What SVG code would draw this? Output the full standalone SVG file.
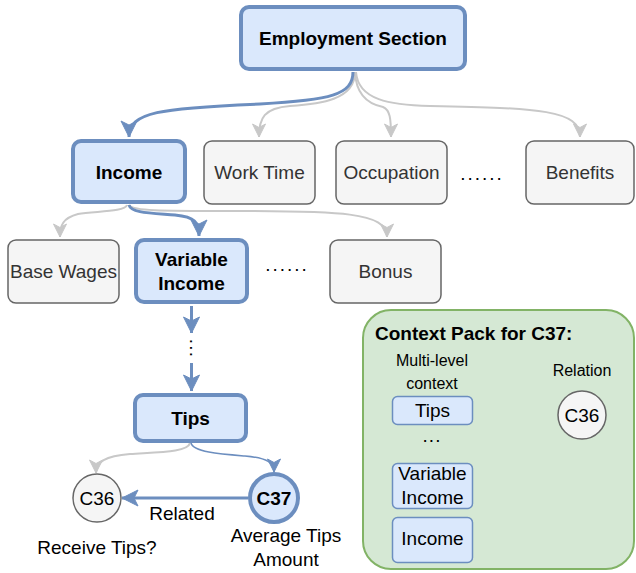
<svg xmlns="http://www.w3.org/2000/svg" width="636" height="573" viewBox="0 0 636 573">
<defs>
<marker id="ab" markerUnits="userSpaceOnUse" markerWidth="18" markerHeight="18" refX="16" refY="8" orient="auto" overflow="visible">
<path d="M0,0 L16,8 L0,16 L4,8 Z" fill="#6c8ebf" stroke="#6c8ebf" stroke-width="1" stroke-linejoin="miter"/>
</marker>
<marker id="abs" markerUnits="userSpaceOnUse" markerWidth="14" markerHeight="14" refX="13" refY="6.5" orient="auto" overflow="visible">
<path d="M0,0 L13,6.5 L0,13 L3.5,6.5 Z" fill="#6c8ebf" stroke="#6c8ebf" stroke-width="1"/>
</marker>
<marker id="ag" markerUnits="userSpaceOnUse" markerWidth="14" markerHeight="14" refX="13" refY="6.5" orient="auto" overflow="visible">
<path d="M0,0 L13,6.5 L0,13 L3.5,6.5 Z" fill="#c8c8c8" stroke="#c8c8c8" stroke-width="1"/>
</marker>
</defs>
<style>
text{font-family:"Liberation Sans",Arial,Helvetica,sans-serif;text-anchor:middle}
.hl{fill:#dae8fc;stroke:#6c8ebf;stroke-width:4}
.gr{fill:#f5f5f5;stroke:#666666;stroke-width:1.5}
.sb{fill:#dae8fc;stroke:#6c8ebf;stroke-width:1.5}
.bt{font-size:19px;font-weight:bold;fill:#000}
.gt{font-size:19px;fill:#333333}
.nt{font-size:19px;fill:#000}
.st{font-size:16px;fill:#000}
.eg{fill:none;stroke:#c8c8c8;stroke-width:2;marker-end:url(#ag)}
.eb{fill:none;stroke:#6c8ebf;stroke-width:3;marker-end:url(#ab)}
.ebs{fill:none;stroke:#6c8ebf;stroke-width:1.5;marker-end:url(#abs)}
.dots{font-size:19px;fill:#000;letter-spacing:2px}
</style>

<g id="connectors">
<path class="eg" d="M355,72 C355,100 320,104 290,106 C264,108 259,118 259,137"/>
<path class="eg" d="M355,72 C356,95 368,104 383,107 C390,110 391,118 391,137"/>
<path class="eg" d="M356,72 C358,100 390,105 430,106 C540,108 580,110 580,137"/>
<path class="eb" d="M353,72 C353,95 330,100 260,104 C160,108 129,112 129,137"/>
<path class="eg" d="M127,205 C125,212 95,211 78,214 C63,218 60,225 60,237"/>
<path class="eg" d="M129,205 C133,211 160,211 230,211 C340,211 387,212 387,237"/>
<path class="eb" d="M129,205 C131,213 150,213 175,215 C195,217 199,222 199,236"/>
<path class="eb" d="M191.5,306 L191.5,333"/>
<path class="eb" d="M191.5,363 L191.5,391"/>
<path class="eg" d="M190,443 C188,452 160,452 130,454 C105,456 96,462 96,473"/>
<path class="ebs" d="M191,443 C193,452 220,454 245,456 C268,458 274,463 274,472"/>
<path class="eb" d="M248,498 L122,498"/>
</g>

<g id="employment-section"><rect class="hl" x="241" y="7" width="224" height="62" rx="8"/><text class="bt" x="353" y="45">Employment Section</text></g>
<g id="income"><rect class="hl" x="73" y="141" width="112" height="61" rx="8"/><text class="bt" x="129" y="179">Income</text></g>
<g id="work-time"><rect class="gr" x="204" y="141" width="111" height="63" rx="8"/><text class="gt" x="259.5" y="179">Work Time</text></g>
<g id="occupation"><rect class="gr" x="336" y="141" width="111" height="63" rx="8"/><text class="gt" x="391.5" y="179">Occupation</text></g>
<g id="dots-top"><text class="dots" x="482" y="180">......</text></g>
<g id="benefits"><rect class="gr" x="526" y="141" width="108" height="63" rx="8"/><text class="gt" x="580" y="179">Benefits</text></g>
<g id="base-wages"><rect class="gr" x="8" y="240" width="111" height="63" rx="8"/><text class="gt" x="63.5" y="278">Base Wages</text></g>
<g id="variable-income"><rect class="hl" x="136" y="240" width="111" height="62" rx="8"/><text class="bt" x="191.5" y="266">Variable</text><text class="bt" x="191.5" y="290">Income</text></g>
<g id="dots-mid"><text class="dots" x="287" y="271">......</text></g>
<g id="bonus"><rect class="gr" x="330" y="240" width="111" height="63" rx="8"/><text class="gt" x="385.5" y="278">Bonus</text></g>
<g id="dots-vertical"><text class="dots" x="0" y="0" transform="translate(189.5,348.5) rotate(90)" style="letter-spacing:1.2px">...</text></g>
<g id="tips"><rect class="hl" x="135" y="395" width="111" height="46" rx="8"/><text class="bt" x="190.5" y="425">Tips</text></g>
<g id="c36"><circle class="gr" cx="97" cy="498" r="24"/><text class="nt" x="97" y="505">C36</text></g>
<g id="c37"><circle class="hl" cx="274" cy="498" r="24"/><text class="bt" x="274" y="505">C37</text></g>
<g id="labels">
<text class="nt" x="182" y="520">Related</text>
<text class="nt" x="97" y="554">Receive Tips?</text>
<text class="nt" x="286" y="542">Average Tips</text>
<text class="nt" x="286" y="566">Amount</text>
</g>

<g id="context-pack">
<rect x="363" y="310" width="271" height="259" rx="28" fill="#d5e8d4" stroke="#82b366" stroke-width="2"/>
<text class="bt" x="375" y="340" style="text-anchor:start">Context Pack for C37:</text>
<text class="st" x="432" y="366">Multi-level</text>
<text class="st" x="432" y="389">context</text>
<text class="st" x="582" y="376">Relation</text>
<g id="ctx-tips"><rect class="sb" x="392.5" y="396.5" width="80" height="28" rx="5"/><text class="nt" x="432.5" y="417">Tips</text></g>
<text class="dots" x="432" y="442" style="letter-spacing:1px">...</text>
<g id="ctx-variable-income"><rect class="sb" x="392.5" y="463.5" width="80" height="45" rx="5"/><text class="nt" x="432.5" y="480">Variable</text><text class="nt" x="432.5" y="504">Income</text></g>
<g id="ctx-income"><rect class="sb" x="392.5" y="517.5" width="80" height="45" rx="5"/><text class="nt" x="432.5" y="545">Income</text></g>
<g id="ctx-c36"><circle class="gr" cx="582" cy="415" r="24"/><text class="nt" x="582" y="421.5">C36</text></g>
</g>
</svg>
